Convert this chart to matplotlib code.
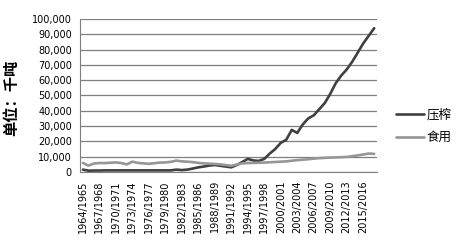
import matplotlib
matplotlib.use("Agg")
import matplotlib.pyplot as plt
from matplotlib.ticker import FuncFormatter, MultipleLocator

years = list(range(1964, 2018))
year_labels = [f"{y}/{y+1}" for y in years]

crush = [1500, 800, 900, 900, 1000, 1000, 1000, 1000, 1000, 1000,
         1000, 1000, 1000, 1000, 1000, 1000, 1000, 1500, 1200, 1500,
         2200, 3000, 3500, 4200, 4500, 4000, 3500, 3000, 4500, 6500,
         8500, 7500, 7200, 8500, 12000, 15000, 19000, 21000, 27500, 25500,
         31000, 35000, 37000, 41000, 45000, 51000, 58000, 63000, 67000, 72000,
         78000, 84000, 89000, 94000]
food = [5900, 4100, 5500, 5800, 5800, 6000, 6200, 5800, 4900, 6700,
        5900, 5600, 5300, 5700, 6100, 6200, 6600, 7400, 6900, 6700,
        6400, 5900, 5600, 5400, 5200, 4900, 4500, 4000, 4800, 5600,
        5800, 5900, 6000, 6100, 6300, 6500, 6700, 6900, 7300, 7700,
        8000, 8300, 8700, 9000, 9200, 9400, 9500, 9600, 9800, 10300,
        10800, 11400, 12000, 11800]

cjk = ["Noto Sans CJK SC", "DejaVu Sans"]

fig = plt.figure(figsize=(4.58, 2.47), dpi=100)
ax = fig.add_axes([0.175, 0.304, 0.648, 0.619])
x = list(range(len(years)))
ax.plot(x, crush, color="#404040", lw=1.9, label="压榨", solid_capstyle="round")
ax.plot(x, food, color="#969696", lw=1.9, label="食用", solid_capstyle="round")

ax.set_xlim(-0.5, len(years) - 0.5)
ax.set_ylim(0, 100000)
ax.yaxis.set_major_locator(MultipleLocator(10000))
ax.yaxis.set_major_formatter(FuncFormatter(lambda v, p: f"{int(v):,}"))
ax.set_xticks(x[::3])
ax.set_xticklabels(year_labels[::3], rotation=90, fontsize=7, family="DejaVu Sans")
ax.tick_params(axis="y", labelsize=7, length=0, pad=6)
ax.tick_params(axis="x", length=0, pad=6)
ax.grid(axis="y", color="#7f7f7f", lw=0.9)
ax.set_axisbelow(True)
for s in ["top", "right"]:
    ax.spines[s].set_visible(False)
ax.spines["left"].set_color("#7f7f7f")
ax.spines["bottom"].set_color("#7f7f7f")

ax.set_ylabel("单位：千吨", family=cjk, fontsize=11, fontweight="bold")
ax.yaxis.set_label_coords(-0.205, 0.484)

leg = fig.legend(loc="upper left", bbox_to_anchor=(0.839, 0.605), frameon=False,
                 prop={"family": cjk, "size": 9},
                 handlelength=2.25, handletextpad=0.2, labelspacing=0.75)

fig.savefig("out.png", dpi=100)
